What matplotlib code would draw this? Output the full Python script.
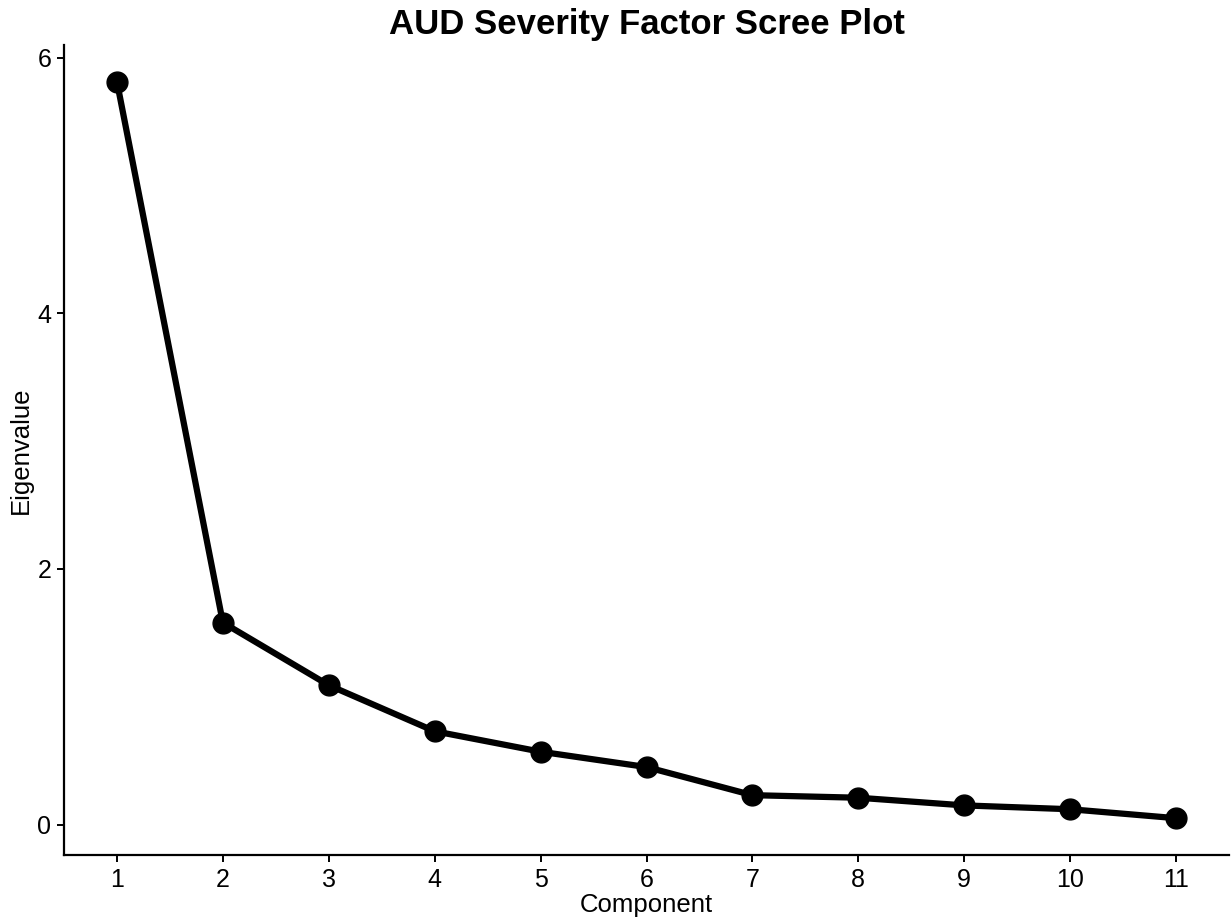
import matplotlib
matplotlib.use("Agg")
import matplotlib.pyplot as plt

plt.rcParams['font.family'] = ['Liberation Sans', 'DejaVu Sans']

# eigenvalues per component
components = [1, 2, 3, 4, 5, 6, 7, 8, 9, 10, 11]
eigenvalues = [5.81, 1.58, 1.09, 0.73, 0.57, 0.45, 0.23, 0.21, 0.15, 0.12, 0.05]

fig = plt.figure(figsize=(12.31, 9.22), dpi=100)
ax = fig.add_axes([64 / 1231, (922 - 855) / 922, (1229 - 64) / 1231, (855 - 45) / 922])

ax.plot(components, eigenvalues, color='black', linewidth=4.5, zorder=2)
ax.plot(components, eigenvalues, 'o', color='black', markersize=15, zorder=3)

ax.set_xlim(0.5, 11.5)
ax.set_ylim(-0.238, 6.098)
ax.set_xticks(components)
ax.set_yticks([0, 2, 4, 6])

for side in ['top', 'right']:
    ax.spines[side].set_visible(False)
for side in ['left', 'bottom']:
    ax.spines[side].set_linewidth(1.6)

ax.tick_params(axis='both', length=5, width=1.4, labelsize=18, colors='black', pad=4)

ax.set_xlabel('Component', fontsize=18.5, labelpad=1)
ax.set_ylabel('Eigenvalue', fontsize=18.5, labelpad=3)
ax.set_title('AUD Severity Factor Scree Plot', fontsize=25, fontweight='bold', pad=8)

fig.savefig('out.png', dpi=100)
